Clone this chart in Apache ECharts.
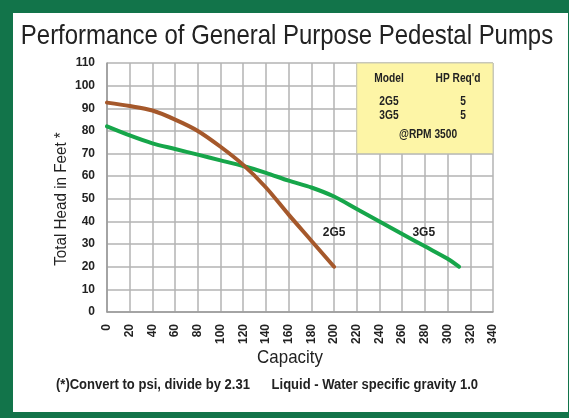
<!DOCTYPE html>
<html>
<head>
<meta charset="utf-8">
<script src="https://cdn.jsdelivr.net/npm/echarts@6/dist/echarts.min.js"></script>
<style>
  html, body { margin: 0; padding: 0; }
  #frame { position: relative; width: 569px; height: 418px; background: #12744a; }
  #paper { position: absolute; left: 13px; top: 13px; width: 555px; height: 399px; background: #fff; }
  #chart { position: absolute; left: 0; top: 0; width: 569px; height: 418px; }
</style>
</head>
<body>
<div id="frame"><div id="paper"></div><div id="chart"></div></div>
<script>
// capacity / head readings
var cap2G5 = [0, 20, 40, 60, 80, 100, 120, 140, 160, 180, 200];
var head2G5 = [92.5, 91, 89, 85, 80, 73, 65, 55, 43, 31.5, 20];
var cap3G5 = [0, 20, 40, 60, 80, 100, 120, 140, 160, 180, 200, 220, 240, 260, 280, 300, 310];
var head3G5 = [82, 78, 74.5, 72, 69.5, 67, 64.5, 61.5, 58, 55, 51, 45.5, 40, 34.5, 29, 23.5, 20];
var models = ['2G5', '3G5'];
var hpReq = [5, 5];

var sans = "'Liberation Sans', Arial, sans-serif";

function pairs(xs, ys) {
  var res = [];
  for (var i = 0; i < xs.length; i++) res.push([xs[i], ys[i]]);
  return res;
}

// condensed text: plain Liberation Sans squeezed horizontally
function txt(x, y, s, font, sx, align, extra) {
  var el = {
    type: 'text', x: x, y: y, z: 100, scaleX: sx,
    style: { text: s, font: font, fill: '#222', textAlign: align || 'left', textVerticalAlign: 'middle' }
  };
  if (extra) for (var k in extra) el[k] = extra[k];
  return el;
}

var myChart = echarts.init(document.getElementById('chart'));

var option = {
  animation: false,
  grid: { left: 107, right: 76, top: 63, bottom: 106 },
  xAxis: {
    type: 'value',
    min: 0, max: 340, interval: 20,
    axisLine: { lineStyle: { color: '#999', width: 1.5 } },
    axisTick: { show: false },
    axisLabel: { rotate: 90, margin: 12, fontFamily: sans, fontWeight: 'bold', fontSize: 12, color: '#222' },
    splitLine: { lineStyle: { color: '#b3b3b3', width: 1.5 } }
  },
  yAxis: {
    type: 'value',
    min: 0, max: 110, interval: 10,
    axisLine: { show: true, lineStyle: { color: '#999', width: 1.5 } },
    axisTick: { show: false },
    axisLabel: { margin: 12, fontFamily: sans, fontWeight: 'bold', fontSize: 12, color: '#222' },
    splitLine: { lineStyle: { color: '#b3b3b3', width: 1.5 } }
  },
  graphic: [
    txt(287, 36, 'Performance of General Purpose Pedestal Pumps', '28px ' + sans, 0.855, 'center', null),
    txt(62, 199, 'Total Head in Feet *', '16px ' + sans, 0.95, 'center', { rotation: Math.PI / 2 }),
    txt(290, 358, 'Capacity', '19px ' + sans, 0.89, 'center', null),
    txt(267, 385, '(*)Convert to psi, divide by 2.31      Liquid - Water specific gravity 1.0', 'bold 14px ' + sans, 0.93, 'center', null),
    txt(389, 79, 'Model', 'bold 12px ' + sans, 0.85, 'center', null),
    txt(458, 79, "HP Req'd", 'bold 12px ' + sans, 0.85, 'center', null),
    txt(389, 102, models[0], 'bold 12px ' + sans, 0.85, 'center', null),
    txt(389, 116, models[1], 'bold 12px ' + sans, 0.85, 'center', null),
    txt(463, 102, String(hpReq[0]), 'bold 12px ' + sans, 0.85, 'center', null),
    txt(463, 116, String(hpReq[1]), 'bold 12px ' + sans, 0.85, 'center', null),
    txt(428, 135, '@RPM 3500', 'bold 12px ' + sans, 0.85, 'center', null)
  ],
  series: [
    {
      name: '2G5',
      type: 'line',
      data: pairs(cap2G5, head2G5),
      smooth: 0.3,
      symbol: 'none',
      lineStyle: { color: '#a5582b', width: 4, cap: 'round' },
      markArea: {
        silent: true,
        itemStyle: { color: '#fdf5a6', borderColor: '#c9c9b0', borderWidth: 1 },
        data: [[{ coord: [220, 70] }, { coord: [340, 110] }]]
      },
      markPoint: {
        symbol: 'circle', symbolSize: 0,
        label: { show: true, formatter: '{b}', fontFamily: sans, fontWeight: 'bold', fontSize: 12, color: '#222' },
        data: [{ name: '2G5', coord: [200, 35] }]
      },
      z: 3
    },
    {
      name: '3G5',
      type: 'line',
      data: pairs(cap3G5, head3G5),
      smooth: 0.3,
      symbol: 'none',
      lineStyle: { color: '#16a64a', width: 4, cap: 'round' },
      markPoint: {
        symbol: 'circle', symbolSize: 0,
        label: { show: true, formatter: '{b}', fontFamily: sans, fontWeight: 'bold', fontSize: 12, color: '#222' },
        data: [{ name: '3G5', coord: [279, 35] }]
      },
      z: 2
    }
  ]
};
myChart.setOption(option);
</script>
</body>
</html>
